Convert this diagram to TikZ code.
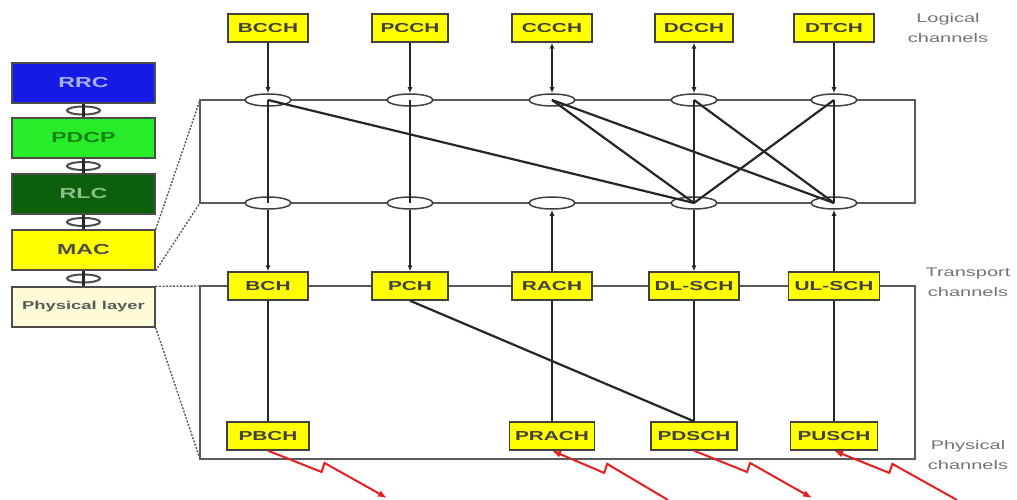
\documentclass[tikz,border=0pt]{standalone}
\usepackage{fontspec}
\setmainfont{Liberation Sans}
\newfontfamily\widefont[FakeStretch=1.6]{Liberation Sans}
\usetikzlibrary{arrows.meta, positioning, shapes.geometric, calc}

\definecolor{chanyellow}{RGB}{255,255,0}
\definecolor{rrcblue}{RGB}{22,26,230}
\definecolor{rrctext}{RGB}{170,176,230}
\definecolor{pdcpgreen}{RGB}{40,236,40}
\definecolor{pdcptext}{RGB}{20,130,20}
\definecolor{rlcgreen}{RGB}{12,96,12}
\definecolor{rlctext}{RGB}{140,190,140}
\definecolor{phycream}{RGB}{255,250,215}
\definecolor{zapred}{RGB}{230,30,30}

\begin{document}
\begin{tikzpicture}[
  x=1pt, y=-1pt,
  chan/.style={draw=black!75, fill=chanyellow, line width=1.4pt, minimum width=80pt,
    minimum height=28pt, inner sep=0pt, text=black!75,
    font=\widefont\bfseries\fontsize{13}{13}\selectfont},
  layer/.style={draw=black!70, line width=1.4pt, minimum width=143pt, minimum height=40pt,
    inner sep=0pt, font=\widefont\bfseries\fontsize{14.5}{14.5}\selectfont},
  mux/.style={ellipse, draw=black!75, fill=white, line width=1.5pt, minimum width=46pt,
    minimum height=12pt, inner sep=0pt},
  smallmux/.style={ellipse, draw=black!70, line width=2pt, minimum width=33pt,
    minimum height=8pt, inner sep=0pt},
  frame/.style={draw=black!65, line width=1.6pt},
  link/.style={draw=black!85, line width=2.2pt},
  dotlink/.style={draw=black!65, line width=1.4pt, dash pattern=on 2pt off 1.5pt},
  side/.style={text=black!55, align=center, font=\widefont\fontsize{12.5}{20}\selectfont},
  zap/.style={draw=zapred, line width=2pt, arrows={-}},
  >={Latex[length=6pt, width=5pt]}
]
  \useasboundingbox (0,0) rectangle (1017,500);

  %------------------------------------------------------------
  %  PARAMETERS
  %------------------------------------------------------------
  \def\yLog{28}     % logical channel row
  \def\yMuxA{100}   % upper multiplexing row
  \def\yMuxB{203}   % lower multiplexing row
  \def\yTr{286}     % transport channel row
  \def\yPhy{436}    % physical channel row

  %------------------------------------------------------------
  %  FRAMES OF THE MAC AND PHY PARTS
  %------------------------------------------------------------
  \coordinate (upTL) at (200,\yMuxA);
  \coordinate (upBL) at (200,\yMuxB);
  \coordinate (upBR) at (915,\yMuxB);
  \coordinate (loTL) at (200,\yTr);
  \coordinate (loBL) at (200,459);
  \coordinate (loBR) at (915,459);
  \draw[frame] (upTL) rectangle (upBR);
  \draw[frame] (loTL) rectangle (loBR);

  %------------------------------------------------------------
  %  PROTOCOL STACK (left)
  %------------------------------------------------------------
  \node[layer, fill=rrcblue,   text=rrctext]  (rrc)  at (83.5,83)  {RRC};
  \node[layer, fill=pdcpgreen, text=pdcptext] (pdcp) at (83.5,138) {PDCP};
  \node[layer, fill=rlcgreen,  text=rlctext]  (rlc)  at (83.5,194) {RLC};
  \node[layer, fill=chanyellow, text=black!70] (mac) at (83.5,250) {MAC};
  \node[layer, fill=phycream, text=black!65,
        font=\widefont\bfseries\fontsize{11.5}{11.5}\selectfont] (phy) at (83.5,307) {Physical layer};

  \foreach \up/\dn/\m in {rrc/pdcp/1, pdcp/rlc/2, rlc/mac/3, mac/phy/4} {
    \node[smallmux] (m\m) at ($(\up.south)!0.5!(\dn.north)$) {};
    \draw[link] (\up) -- (\dn);
  }

  \draw[dotlink] (mac.north east) -- (upTL);
  \draw[dotlink] (mac.south east) -- (upBL);
  \draw[dotlink] (phy.north east) -- (loTL);
  \draw[dotlink] (phy.south east) -- (loBL);

  %------------------------------------------------------------
  %  LOGICAL CHANNELS
  %------------------------------------------------------------
  \foreach \x/\nm/\txt/\w in {268/bcch/BCCH/80, 410/pcch/PCCH/76, 552/ccch/CCCH/80,
                              694/dcch/DCCH/78, 834/dtch/DTCH/80}
    \node[chan, minimum width=\w] (\nm) at (\x,\yLog) {\txt};

  %------------------------------------------------------------
  %  MULTIPLEXING POINTS
  %------------------------------------------------------------
  \foreach \x/\nm in {268/a, 410/b, 552/c, 694/d, 834/e} {
    \node[mux] (top\nm) at (\x,\yMuxA) {};
    \node[mux] (bot\nm) at (\x,\yMuxB) {};
  }

  %------------------------------------------------------------
  %  TRANSPORT CHANNELS
  %------------------------------------------------------------
  \foreach \x/\nm/\txt/\w in {268/bch/BCH/80, 410/pch/PCH/76, 552/rach/RACH/80,
                              694/dlsch/DL-SCH/90, 834/ulsch/UL-SCH/91}
    \node[chan, minimum width=\w] (\nm) at (\x,\yTr) {\txt};

  %------------------------------------------------------------
  %  PHYSICAL CHANNELS
  %------------------------------------------------------------
  \foreach \x/\nm/\txt/\w in {268/pbch/PBCH/82, 552/prach/PRACH/85,
                              694/pdsch/PDSCH/86, 834/pusch/PUSCH/87}
    \node[chan, minimum width=\w] (\nm) at (\x,\yPhy) {\txt};

  %------------------------------------------------------------
  %  SIDE LABELS
  %------------------------------------------------------------
  \node[side] (logLbl) at (948,28)  {Logical\\channels};
  \node[side] (trLbl)  at (968,282) {Transport\\channels};
  \node[side] (phyLbl) at (968,455) {Physical\\channels};

  %------------------------------------------------------------
  %  LOGICAL -> MUX
  %------------------------------------------------------------
  \draw[link, ->]  (bcch) -- (topa);
  \draw[link, ->]  (pcch) -- (topb);
  \draw[link, <->] (ccch) -- (topc);
  \draw[link, <->] (dcch) -- (topd);
  \draw[link, ->]  (dtch) -- (tope);

  %------------------------------------------------------------
  %  MAPPING INSIDE MAC
  %------------------------------------------------------------
  \foreach \s/\t in {a/a, b/b, d/d, e/e, a/d, c/d, c/e, d/e, e/d}
    \draw[link] (top\s.center) -- (bot\t.center);

  %------------------------------------------------------------
  %  MUX <-> TRANSPORT
  %------------------------------------------------------------
  \draw[link, ->] (bota) -- (bch);
  \draw[link, ->] (botb) -- (pch);
  \draw[link, ->] (rach) -- (botc);
  \draw[link, ->] (botd) -- (dlsch);
  \draw[link, ->] (ulsch) -- (bote);

  %------------------------------------------------------------
  %  TRANSPORT -> PHYSICAL
  %------------------------------------------------------------
  \draw[link] (bch) -- (pbch);
  \draw[link] (rach) -- (prach);
  \draw[link] (dlsch) -- (pdsch);
  \draw[link] (ulsch) -- (pusch);
  \draw[link] (pch.south) -- (pdsch.north);

  %------------------------------------------------------------
  %  RADIO LINKS (red)
  %------------------------------------------------------------
  \coordinate (pbchEnd)  at (387,498);
  \coordinate (prachEnd) at (668,500);
  \coordinate (pdschEnd) at (812,498);
  \coordinate (puschEnd) at (957,500);
  \draw[zap, -{Latex[length=9pt, width=7pt]}] (pbch.south) -- ($(pbch.south)!0.45!(pbchEnd)$) -- ++(3,-9) -- (pbchEnd);
  \draw[zap, {Latex[length=9pt, width=7pt]}-] (prach.south) -- ($(prach.south)!0.45!(prachEnd)$) -- ++(3,-9) -- (prachEnd);
  \draw[zap, -{Latex[length=9pt, width=7pt]}] (pdsch.south) -- ($(pdsch.south)!0.45!(pdschEnd)$) -- ++(3,-9) -- (pdschEnd);
  \draw[zap, {Latex[length=9pt, width=7pt]}-] (pusch.south) -- ($(pusch.south)!0.45!(puschEnd)$) -- ++(3,-9) -- (puschEnd);

\end{tikzpicture}
\end{document}
